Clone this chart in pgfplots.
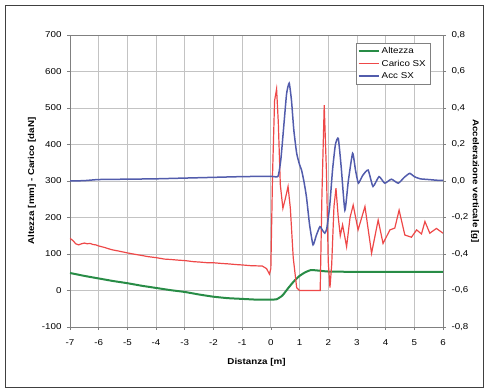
\documentclass[border=0pt]{standalone}
\usepackage{pgfplots}
\pgfplotsset{compat=1.18}
\usepackage{fontspec}
\setmainfont[FakeStretch=1.15]{Liberation Sans}
\definecolor{cgreen}{RGB}{40,140,70}
\definecolor{cred}{RGB}{238,72,72}
\definecolor{cblue}{RGB}{82,92,172}
\definecolor{cgrid}{RGB}{195,195,195}
\definecolor{caxis}{RGB}{128,128,128}
\newcommand{\fs}{\fontsize{8.5}{10}\selectfont}
\begin{document}
\begin{tikzpicture}[x=1pt,y=1pt]
\useasboundingbox (0,0) rectangle (488,390);
\draw[black!75, line width=1.2pt] (5.5,2.5) rectangle (483.5,384.5);
\begin{axis}[
  at={(70pt,63pt)}, anchor=south west,
  scale only axis, width=373pt, height=292pt,
  xmin=-7, xmax=6, ymin=-100, ymax=700,
  xtick={-7,...,6}, ytick={-100,0,...,700},
  xtick pos=left, ytick pos=left,
  grid=major, major grid style={cgrid, line width=0.7pt},
  axis line style={caxis, line width=0.7pt},
  tick style={caxis, line width=0.6pt}, tick align=outside, major tick length=3pt,
  tick label style={font=\fs},
  /pgf/number format/assume math mode=true,
  yticklabel style={xshift=-2pt},
  xticklabel style={yshift=-6pt},
  label style={font=\fs\bfseries},
  xlabel={Distanza [m]},
  ylabel={Altezza [mm] - Carico [daN]},
  xlabel style={at={(axis description cs:0.5,-0.12)}, anchor=center},
  ylabel style={at={(axis description cs:-0.102,0.5)}, anchor=center},
]
\addplot[cgreen, line width=2pt, smooth, tension=0.3] coordinates {
(-7,48) (-6.5,40) (-6,33) (-5.5,26) (-5,20) (-4.5,13) (-4,7) (-3.5,1) (-3,-4)
(-2.5,-11) (-2,-17) (-1.5,-21) (-1,-23) (-0.5,-25) (0,-25) (0.2,-24) (0.4,-14)
(0.6,6) (0.8,25) (1.0,40) (1.2,50) (1.4,56) (1.6,55) (2.0,52) (3,51) (4,51) (5,51) (6,51)
};
\addplot[cred, line width=1.2pt] coordinates {
(-7,143) (-6.9,137) (-6.8,128) (-6.7,125) (-6.6,128) (-6.5,130) (-6.4,128) (-6.3,129)
(-6.2,126) (-6.1,125) (-6.0,122) (-5.8,118) (-5.6,113) (-5.5,111) (-5.3,108) (-5.0,103)
(-4.8,100) (-4.5,96) (-4.3,93) (-4.0,90) (-3.7,86) (-3.5,85) (-3.2,83) (-3.0,82)
(-2.7,79) (-2.5,78) (-2.2,76) (-2.0,76) (-1.7,74) (-1.5,73) (-1.2,71) (-1.0,70)
(-0.7,68) (-0.3,67) (-0.15,60) (-0.05,45) (0.0,60) (0.06,320) (0.13,520) (0.2,552)
(0.26,460) (0.33,290) (0.42,225) (0.5,250) (0.6,285) (0.68,225) (0.78,90) (0.9,8)
(1.0,0) (1.5,0) (1.72,0) (1.78,260) (1.86,508) (1.94,320) (2.0,80) (2.06,8) (2.12,70)
(2.2,230) (2.27,280) (2.35,200) (2.42,150) (2.5,180) (2.64,120) (2.76,200) (2.87,234)
(3.04,166) (3.28,230) (3.51,102) (3.74,193) (3.91,129) (4.15,166) (4.32,171) (4.47,220)
(4.67,152) (4.9,146) (5.08,166) (5.25,155) (5.37,189) (5.54,157) (5.77,170) (6.0,157)
};
\end{axis}
\begin{axis}[
  at={(70pt,63pt)}, anchor=south west,
  scale only axis, width=373pt, height=292pt,
  xmin=-7, xmax=6, ymin=-0.8, ymax=0.8,
  axis x line=none, axis y line*=right,
  ytick={-0.8,-0.6,-0.4,-0.2,0,0.2,0.4,0.6,0.8},
  axis line style={caxis, line width=0.7pt},
  tick style={caxis, line width=0.6pt}, tick align=outside, major tick length=3pt,
  tick label style={font=\fs},
  /pgf/number format/assume math mode=true,
  yticklabel style={xshift=2pt, /pgf/number format/.cd, use comma, fixed, fixed zerofill, precision=1},
  label style={font=\fs\bfseries},
  ylabel={Accelerazione verticale [g]},
  ylabel style={at={(axis description cs:1.086,0.5)}, anchor=center, rotate=180},
  legend cell align=left,
  legend style={at={(rel axis cs:0.965,0.9726)}, anchor=north east, draw=caxis,
    font=\fs, inner sep=2pt, row sep=1pt, fill=white},
  legend image code/.code={\draw[#1] (0pt,0pt) -- (20pt,0pt);},
]
\addlegendimage{cgreen, line width=2pt}
\addlegendentry{Altezza}
\addlegendimage{cred, line width=1.2pt}
\addlegendentry{Carico SX}
\addplot[cblue, line width=1.5pt, smooth, tension=0.3] coordinates {
(-7,0.000) (-6.5,0.002) (-6,0.008) (-5,0.010) (-4,0.012) (-3,0.016) (-2,0.020) (-1,0.024)
(0,0.026) (0.25,0.026) (0.35,0.12) (0.45,0.30) (0.55,0.48) (0.64,0.536) (0.72,0.44)
(0.8,0.28) (0.9,0.152) (1.0,0.09) (1.07,0.06) (1.15,0.0) (1.24,-0.086) (1.35,-0.24)
(1.47,-0.35) (1.58,-0.30) (1.71,-0.25) (1.8,-0.27) (1.88,-0.286) (1.95,-0.26) (2.05,-0.14)
(2.15,0.06) (2.25,0.20) (2.35,0.234) (2.45,0.08) (2.58,-0.16) (2.7,0.0) (2.85,0.152)
(2.95,0.06) (3.05,-0.012) (3.2,0.03) (3.39,0.06) (3.56,-0.03) (3.77,0.024) (3.97,-0.012)
(4.2,0.01) (4.44,-0.012) (4.65,0.02) (4.84,0.042) (5.0,0.024) (5.2,0.012) (5.5,0.008)
(5.8,0.004) (6.0,0.004)
};
\addlegendentry{Acc SX}
\end{axis}
\end{tikzpicture}
\end{document}
